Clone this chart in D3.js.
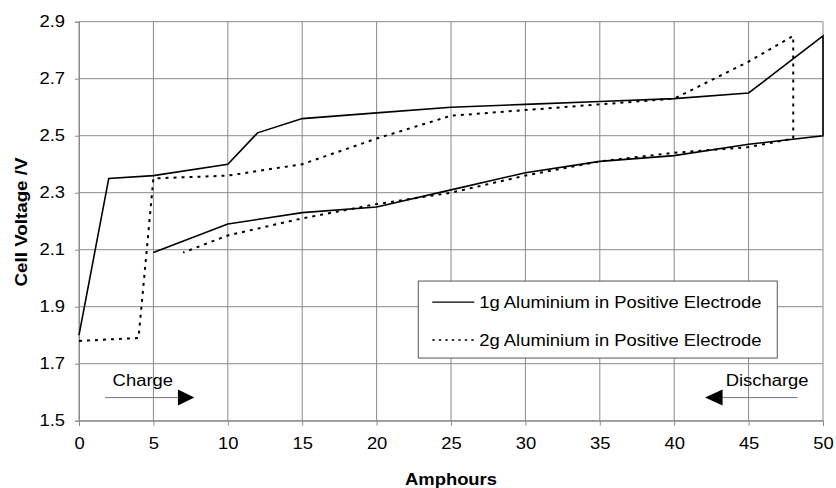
<!DOCTYPE html>
<html>
<head>
<meta charset="utf-8">
<script src="https://cdn.jsdelivr.net/npm/d3@7"></script>
<style>
  body { margin: 0; background: #fff; }
  svg text { font-family: Arial, "Liberation Sans", sans-serif; fill: #000; }
</style>
</head>
<body>
<svg id="chart" width="836" height="488"></svg>
<script>
// données
const xTicks = [0, 5, 10, 15, 20, 25, 30, 35, 40, 45, 50];
const yTicks = [1.5, 1.7, 1.9, 2.1, 2.3, 2.5, 2.7, 2.9];

// 1g aluminium (trait plein) : charge puis décharge
const amph1 = [0, 2, 5, 10, 12, 15, 20, 25, 30, 35, 40, 45, 50, 50, 45, 40, 35, 30, 25, 20, 15, 10, 5];
const volt1 = [1.80, 2.35, 2.36, 2.40, 2.51, 2.56, 2.58, 2.60, 2.61, 2.62, 2.63, 2.65, 2.85, 2.50, 2.47, 2.43, 2.41, 2.37, 2.31, 2.25, 2.23, 2.19, 2.09];

// 2g aluminium (pointillés)
const amph2 = [0, 4, 5, 10, 15, 20, 25, 30, 35, 40, 45, 48, 48, 45, 40, 35, 30, 25, 20, 15, 10, 7];
const volt2 = [1.78, 1.79, 2.35, 2.36, 2.40, 2.49, 2.57, 2.59, 2.61, 2.63, 2.76, 2.85, 2.49, 2.46, 2.44, 2.41, 2.36, 2.30, 2.26, 2.21, 2.15, 2.09];

const seriesNames = ['1g Aluminium in Positive Electrode', '2g Aluminium in Positive Electrode'];

const svg = d3.select('#chart');
const margin = { top: 21.7, right: 13, bottom: 67.3, left: 79 };
const width = +svg.attr('width') - margin.left - margin.right;
const height = +svg.attr('height') - margin.top - margin.bottom;

const x = d3.scaleLinear().domain([0, 50]).range([0, width]);
const y = d3.scaleLinear().domain([1.5, 2.9]).range([height, 0]);

const g = svg.append('g').attr('transform', `translate(${margin.left},${margin.top})`);

// grille
g.append('g').selectAll('line').data(yTicks).enter().append('line')
  .attr('x1', 0).attr('x2', width)
  .attr('y1', d => y(d)).attr('y2', d => y(d))
  .attr('stroke', '#8a8a8a').attr('stroke-width', 1);
g.append('g').selectAll('line').data(xTicks).enter().append('line')
  .attr('x1', d => x(d)).attr('x2', d => x(d))
  .attr('y1', 0).attr('y2', height)
  .attr('stroke', '#8a8a8a').attr('stroke-width', 1);

// axes
const xAxis = g.append('g').attr('transform', `translate(0,${height})`)
  .call(d3.axisBottom(x).tickValues(xTicks).tickSize(5).tickPadding(12).tickFormat(d3.format('d')));
const yAxis = g.append('g')
  .call(d3.axisLeft(y).tickValues(yTicks).tickSize(4).tickPadding(10).tickFormat(d3.format('.1f')));
[xAxis, yAxis].forEach(a => {
  a.select('.domain').attr('stroke', '#8a8a8a');
  a.selectAll('.tick line').attr('stroke', '#8a8a8a');
  a.selectAll('.tick text').style('font-size', '16px').attr('font-family', 'Arial, "Liberation Sans", sans-serif')
    .attr('class', 'wide');
});

// courbes
const line = d3.line().x(d => x(d[0])).y(d => y(d[1]));
g.append('path').datum(d3.zip(amph1, volt1))
  .attr('d', line).attr('fill', 'none').attr('stroke', '#000').attr('stroke-width', 1.6);
g.append('path').datum(d3.zip(amph2, volt2))
  .attr('d', line).attr('fill', 'none').attr('stroke', '#000').attr('stroke-width', 2)
  .attr('stroke-dasharray', '3,5');

// légende
const legX = x(22.8), legY = y(1.99);
const leg = g.append('g').attr('transform', `translate(${legX},${legY})`);
leg.append('rect').attr('width', 359).attr('height', 77)
  .attr('fill', '#fff').attr('stroke', '#555').attr('stroke-width', 1);
seriesNames.forEach((name, i) => {
  const row = leg.append('g').attr('transform', `translate(0,${21 + i * 38})`);
  row.append('line').attr('x1', 14).attr('x2', 56).attr('y1', 0).attr('y2', 0)
    .attr('stroke', '#000').attr('stroke-width', i ? 1.5 : 1.3)
    .attr('stroke-dasharray', i ? '2.5,4' : null);
  row.append('text').attr('class', 'wide').attr('x', 61).attr('y', 6).style('font-size', '16px').text(name);
});

// annotations Charge / Discharge
const arrowY = 1.581;
g.append('text').attr('class', 'wide').attr('x', x(2.26)).attr('y', y(1.622)).style('font-size', '16px').text('Charge');
g.append('line').attr('x1', x(1.75)).attr('x2', x(6.7)).attr('y1', y(arrowY)).attr('y2', y(arrowY))
  .attr('stroke', '#777').attr('stroke-width', 1);
g.append('path').attr('fill', '#000')
  .attr('d', `M${x(6.65)},${y(arrowY) - 8}L${x(7.75)},${y(arrowY)}L${x(6.65)},${y(arrowY) + 8}Z`);

g.append('text').attr('class', 'wide').attr('x', x(43.46)).attr('y', y(1.622)).style('font-size', '16px').text('Discharge');
g.append('line').attr('x1', x(43.2)).attr('x2', x(48.3)).attr('y1', y(arrowY)).attr('y2', y(arrowY))
  .attr('stroke', '#777').attr('stroke-width', 1);
g.append('path').attr('fill', '#000')
  .attr('d', `M${x(43.25)},${y(arrowY) - 8}L${x(42.07)},${y(arrowY)}L${x(43.25)},${y(arrowY) + 8}Z`);

// titres des axes
svg.append('text').attr('class', 'wide').attr('x', 451).attr('y', 485).attr('text-anchor', 'middle')
  .style('font-size', '16px').style('font-weight', 'bold').text('Amphours');
svg.append('text').attr('transform', 'translate(27,222) rotate(-90)').attr('text-anchor', 'middle')
  .style('font-size', '16px').style('font-weight', 'bold').attr('textLength', 129)
  .attr('lengthAdjust', 'spacingAndGlyphs').text('Cell Voltage /V');

// le texte de l'original est un peu étiré en largeur
svg.selectAll('text.wide').each(function() {
  const len = this.getComputedTextLength();
  d3.select(this).attr('textLength', len * 1.15).attr('lengthAdjust', 'spacingAndGlyphs');
});
</script>
</body>
</html>
